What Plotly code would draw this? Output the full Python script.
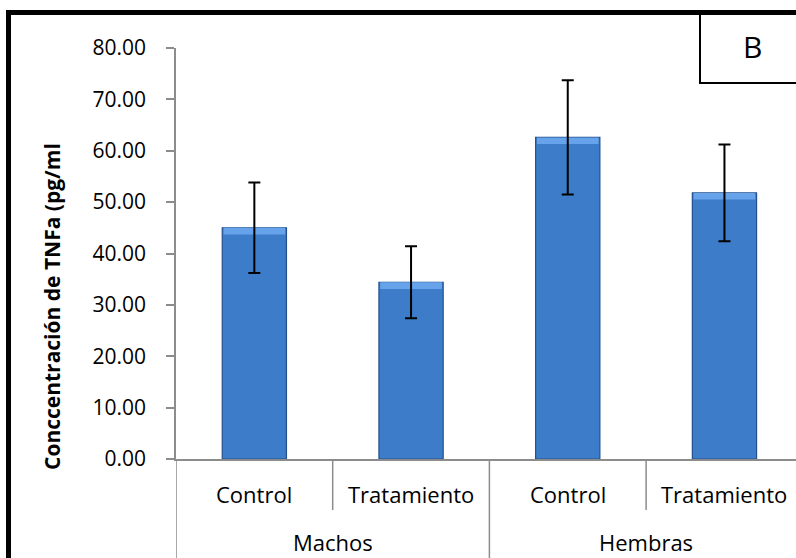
import plotly.graph_objects as go

# Data
groups = ["Machos", "Machos", "Hembras", "Hembras"]
treatments = ["Control", "Tratamiento", "Control", "Tratamiento"]
tnfa_mean = [45.0, 34.4, 62.6, 51.8]
tnfa_err = [8.8, 7.0, 11.1, 9.4]
y_ticks = [0, 10, 20, 30, 40, 50, 60, 70, 80]

W, H = 796, 558
ML, MR, MT, MB = 176, 0, 48, 99
PW, PH = W - ML - MR, H - MT - MB

def px_x(px):
    return (px - ML) / PW

def px_y(py):
    return (H - MB - py) / PH

AXIS_GREY = "#8c8c8c"
FONT = "Open Sans"
BAR_W = 0.41
BEVEL = 1.3  # height of the light top band, in data units

positions = list(range(len(treatments)))

fig = go.Figure()
# main bar body
fig.add_trace(go.Bar(
    x=positions, y=tnfa_mean, width=BAR_W,
    marker=dict(color="#3d7cc9", line=dict(color="#23508c", width=1.2)),
    showlegend=False, hoverinfo="skip",
))
# light bevel band along the top of each bar
fig.add_trace(go.Bar(
    x=positions, y=[BEVEL] * len(tnfa_mean),
    base=[m - BEVEL for m in tnfa_mean], width=BAR_W * 0.96,
    marker=dict(color="#66a3ea", line=dict(width=0)),
    showlegend=False, hoverinfo="skip",
))
# error bars
fig.add_trace(go.Scatter(
    x=positions, y=tnfa_mean, mode="markers",
    marker=dict(size=1, color="rgba(0,0,0,0)"),
    error_y=dict(type="data", array=tnfa_err, visible=True,
                 color="black", thickness=2, width=6),
    showlegend=False,
))

shapes = []
# separators between sub-categories and groups below the axis
group_edges = [-0.5]
for i in range(1, len(groups)):
    if groups[i] != groups[i - 1]:
        group_edges.append(i - 0.5)
for i in range(1, len(treatments)):
    edge = i - 0.5
    y_end = px_y(H + 5) if edge in group_edges else px_y(510)
    shapes.append(dict(type="line", xref="x", yref="paper", x0=edge, x1=edge,
                       y0=0, y1=y_end, line=dict(color=AXIS_GREY, width=1.5)))
shapes.append(dict(type="line", xref="x", yref="paper", x0=-0.5, x1=-0.5,
                   y0=0, y1=px_y(H + 5), line=dict(color=AXIS_GREY, width=1.5)))

# panel letter box
shapes.append(dict(type="rect", xref="paper", yref="paper",
                   x0=px_x(700), x1=px_x(W + 20), y0=px_y(83), y1=px_y(12),
                   line=dict(color="black", width=2), fillcolor="white"))
# outer chart frame
shapes.append(dict(type="rect", xref="paper", yref="paper",
                   x0=px_x(8.5), x1=px_x(W + 30), y0=px_y(H + 30), y1=px_y(12.5),
                   line=dict(color="black", width=5)))

annotations = []
for pos, t in zip(positions, treatments):
    annotations.append(dict(x=pos, y=px_y(494), xref="x", yref="paper",
                            text=t, showarrow=False,
                            font=dict(family=FONT, size=22, color="black"),
                            xanchor="center", yanchor="middle"))
seen = []
for g in groups:
    if g not in seen:
        seen.append(g)
for g in seen:
    idx = [i for i, gg in enumerate(groups) if gg == g]
    center = (idx[0] + idx[-1]) / 2
    annotations.append(dict(x=center, y=px_y(542), xref="x", yref="paper",
                            text=g, showarrow=False,
                            font=dict(family=FONT, size=22, color="black"),
                            xanchor="center", yanchor="middle"))
annotations.append(dict(x=px_x(752), y=px_y(47), xref="paper", yref="paper",
                        text="B", showarrow=False,
                        font=dict(family=FONT, size=30, color="black"),
                        xanchor="center", yanchor="middle"))
annotations.append(dict(x=px_x(52), y=px_y(307), xref="paper", yref="paper",
                        text="<b>Conccentración de TNFa (pg/ml</b>",
                        textangle=-90, showarrow=False,
                        font=dict(family=FONT, size=21, color="black"),
                        xanchor="center", yanchor="middle"))

fig.update_layout(
    width=W, height=H,
    margin=dict(l=ML, r=MR, t=MT, b=MB, pad=0),
    paper_bgcolor="white", plot_bgcolor="white",
    barmode="overlay",
    shapes=shapes, annotations=annotations,
    xaxis=dict(range=[-0.5, -0.5 + PW / 156.7], showticklabels=False,
               showgrid=False, zeroline=False, showline=True,
               linecolor=AXIS_GREY, linewidth=1.5, ticks=""),
    yaxis=dict(range=[0, 80], tickvals=y_ticks, tickformat=".2f",
               showgrid=False, zeroline=False, showline=True,
               linecolor=AXIS_GREY, linewidth=1.5,
               ticks="outside", ticklen=8, tickcolor=AXIS_GREY, tickwidth=1.5,
               ticklabelstandoff=16,
               tickfont=dict(family=FONT, size=21, color="black")),
)

fig.write_html("out.html")
